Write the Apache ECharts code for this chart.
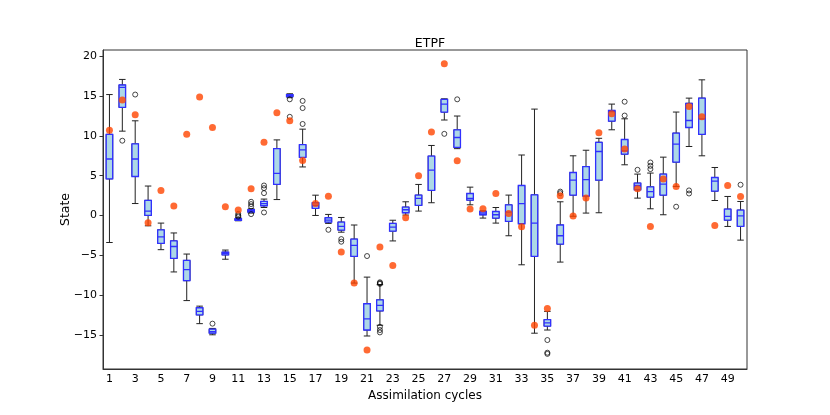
<!DOCTYPE html>
<html>
<head>
<meta charset="utf-8">
<script src="https://cdn.jsdelivr.net/npm/echarts@6/dist/echarts.min.js"></script>
<style>
html,body{margin:0;padding:0;background:#fff;}
#main{width:830px;height:415px;}
</style>
</head>
<body>
<div id="main"></div>
<script>
// cycles 1..50
var cycles = [];
for (var i = 1; i <= 50; i++) { cycles.push(String(i)); }

// ensemble stats per cycle (whisker low, q1, median, q3, whisker high)
var whiskerLow = [-3.4,10.6,1.5,-1.3,-4.3,-7.1,-10.7,-13.6,-15.0,-5.5,
	-0.67,0.3,1.0,2.0,14.8,6.1,0.0,-1.0,-2.1,-8.5,
	-15.15,-13.8,-3.2,0.05,0.55,1.6,12.0,8.4,1.34,-0.33,
	-0.96,-2.55,-6.2,-14.8,-14.4,-5.86,-0.1,0.3,0.34,10.77,
	6.37,2.18,0.84,0.09,3.65,8.67,7.5,1.88,-1.38,-3.1];
var q1 = [4.6,13.6,4.9,0.0,-3.5,-5.4,-8.2,-12.5,-14.8,-4.95,
	-0.6,0.42,1.22,3.9,14.95,7.3,0.9,-0.83,-1.84,-5.15,
	-14.4,-12.0,-1.97,0.34,1.26,3.15,13.0,8.55,1.93,0.09,
	-0.33,-0.75,-1.04,-5.15,-13.9,-3.6,2.56,2.43,4.44,11.86,
	7.7,3.23,2.3,2.56,6.7,11.06,10.2,3.06,-0.58,-1.38];
var median = [7.1,16.1,7.1,0.55,-2.7,-3.9,-6.8,-12.05,-14.6,-4.75,
	-0.5,0.59,1.5,5.3,15.1,8.25,1.25,-0.58,-1.38,-3.77,
	-13.0,-11.3,-1.46,0.72,2.14,5.7,14.0,9.8,2.14,0.3,
	0.09,0.42,1.5,-0.96,-13.5,-2.55,4.44,4.5,8.04,13.07,
	8.13,3.77,3.0,3.94,8.97,11.94,12.15,4.32,-0.12,-0.04];
var q3 = [10.2,16.4,9.0,1.9,-1.8,-3.2,-5.65,-11.6,-14.3,-4.6,
	-0.4,0.72,1.76,8.4,15.2,8.9,1.6,-0.29,-0.83,-2.97,
	-11.1,-10.6,-1.0,1.05,2.56,7.46,14.6,10.77,2.76,0.5,
	0.5,1.34,3.77,2.6,-13.1,-1.2,5.4,6.15,9.2,13.2,
	9.55,4.07,3.6,5.2,10.35,14.1,14.75,4.77,0.8,0.68];
var whiskerHigh = [15.2,17.1,11.9,3.7,-0.96,-2.2,-4.85,-11.4,-14.2,-4.35,
	-0.3,0.84,2.06,9.5,15.3,10.85,2.55,0.13,-0.25,-1.2,
	-7.75,-8.7,-0.6,1.72,3.9,8.8,14.66,12.5,3.56,0.59,
	1.0,2.56,7.6,13.37,-12.06,1.72,7.5,8.2,9.7,14.0,
	12.15,5.2,5.33,7.33,13.0,14.75,17.05,6.03,2.39,1.76];

// red markers (truth)
var truth = [10.7,14.5,12.65,-0.9,3.15,1.2,10.2,14.9,11.05,1.1,
	0.7,3.35,9.2,12.9,11.9,6.9,1.5,2.4,-4.6,-8.5,
	-16.9,-3.97,-6.3,-0.29,5.0,10.5,19.06,6.87,0.8,0.84,
	2.76,0.25,-1.42,-13.8,-11.7,2.47,-0.08,2.18,10.4,12.78,
	8.34,3.35,-1.38,4.57,3.65,13.7,12.4,-1.26,3.77,2.39];

// outliers: [cycle, value]
var outliers = [[2,9.4],[3,15.2],[9,-13.6],
	[11,0.2],[11,0.0],[11,-0.15],
	[12,1.72],[12,1.43],[12,1.13],[12,0.17],
	[13,3.77],[13,3.44],[13,2.81],[13,0.38],
	[15,14.6],[15,12.4],[16,14.4],[16,13.5],[16,11.5],
	[18,-1.8],[19,-2.97],[19,-3.3],[21,-5.1],
	[22,-8.4],[22,-8.5],[22,-8.6],[22,-14.0],[22,-14.4],[22,-14.7],
	[27,10.26],[28,14.6],[35,-15.66],[35,-17.25],[35,-17.4],
	[36,3.0],[36,2.8],[41,14.3],[41,12.56],[42,5.74],
	[43,6.66],[43,6.24],[43,5.83],[45,1.1],[46,3.15],[46,2.76],[50,3.86]];

var yTicks = [-15,-10,-5,0,5,10,15,20];

var fullBoxes = [], innerBoxes = [], truthPts = [], outPts = [];
for (var k = 0; k < cycles.length; k++) {
	fullBoxes.push([whiskerLow[k], q1[k], median[k], q3[k], whiskerHigh[k]]);
	innerBoxes.push([q1[k], q1[k], median[k], q3[k], q3[k]]);
	truthPts.push([k, truth[k]]);
}
for (var j = 0; j < outliers.length; j++) {
	outPts.push([outliers[j][0] - 1, outliers[j][1]]);
}

function fmtMinus(v){
	return v < 0 ? '\u2212' + Math.abs(v) : String(v);
}

var font = 'DejaVu Sans';
var frameColor = '#333';
var chart = echarts.init(document.getElementById('main'));
chart.setOption({
	backgroundColor: '#fff',
	animation: false,
	textStyle: {fontFamily: font},
	title: {
		text: 'ETPF', left: 425, top: 32, textAlign: 'center',
		textStyle: {fontFamily: font, fontSize: 12.5, fontWeight: 'normal', color: '#000'}
	},
	grid: {left: 103, right: 83, top: 50, bottom: 46, show: true, borderColor: frameColor, borderWidth: 1},
	xAxis: [{
		type: 'category', data: cycles,
		name: 'Assimilation cycles', nameLocation: 'middle', nameGap: 16,
		nameTextStyle: {fontFamily: font, fontSize: 12, color: '#000'},
		axisLine: {onZero: false, lineStyle: {color: frameColor, width: 1}},
		axisTick: {interval: 1, alignWithLabel: true, length: 3.5, lineStyle: {color: frameColor}},
		axisLabel: {interval: 1, margin: 5, fontFamily: font, fontSize: 11, color: '#000'},
		splitLine: {show: false}
	}, {
		type: 'category', data: cycles, show: false
	}],
	yAxis: {
		type: 'value', min: -19.3, max: 20.8,
		name: 'State', nameLocation: 'middle', nameGap: 31, nameMoveOverlap: false,
		nameTextStyle: {fontFamily: font, fontSize: 12.5, color: '#000'},
		axisLine: {show: true, onZero: false, lineStyle: {color: frameColor, width: 1}},
		axisTick: {show: true, length: 3.5, customValues: yTicks, lineStyle: {color: frameColor}},
		axisLabel: {customValues: yTicks, margin: 6, fontFamily: font, fontSize: 11, color: '#000',
			formatter: fmtMinus},
		splitLine: {show: false}
	},
	series: [{
		// whiskers in black
		type: 'boxplot', xAxisIndex: 0, data: fullBoxes, boxWidth: [6.5, 6.5],
		itemStyle: {color: '#add8e6', borderColor: '#222', borderWidth: 1}
	}, {
		// box + median in blue on top
		type: 'boxplot', xAxisIndex: 1, data: innerBoxes, boxWidth: [6.5, 6.5],
		itemStyle: {color: '#add8e6', borderColor: '#3030ff', borderWidth: 1.3}
	}, {
		type: 'scatter', xAxisIndex: 0, data: outPts, symbol: 'circle', symbolSize: 5,
		itemStyle: {color: 'rgba(0,0,0,0)', borderColor: '#000', borderWidth: 0.9}, z: 3
	}, {
		type: 'scatter', xAxisIndex: 0, data: truthPts, symbol: 'circle', symbolSize: 7,
		itemStyle: {color: '#ff4500'}, z: 4
	}]
});
</script>
</body>
</html>
